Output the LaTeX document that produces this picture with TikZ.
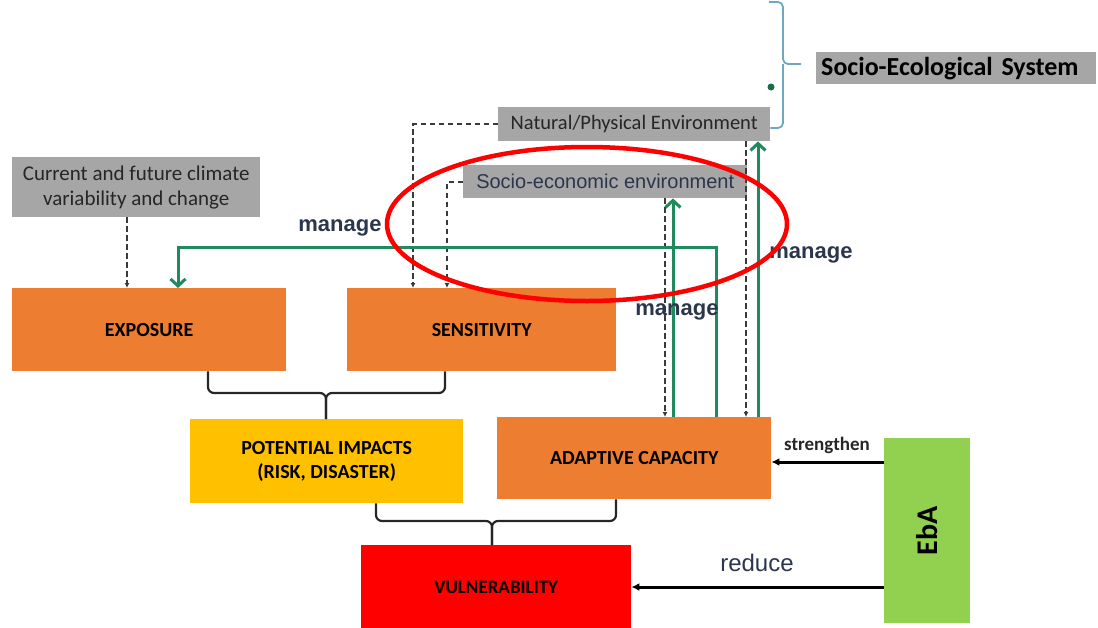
\documentclass[tikz,border=0pt]{standalone}
\usepackage{graphicx}
\usepackage{fontspec}
\setmainfont{Carlito}
\newfontfamily\arialfont{Liberation Sans}
\usetikzlibrary{arrows.meta}

\definecolor{boxorange}{HTML}{ED7D31}
\definecolor{boxyellow}{HTML}{FFC000}
\definecolor{boxred}{HTML}{FF0000}
\definecolor{boxgreen}{HTML}{92D050}
\definecolor{boxgray}{HTML}{A6A6A6}
\definecolor{linkgreen}{HTML}{1F8A5E}
\definecolor{dotgreen}{HTML}{1B6B47}
\definecolor{bracecol}{HTML}{6FA8BE}
\definecolor{labelnavy}{HTML}{2B364D}
\definecolor{textdark}{HTML}{262626}
\definecolor{dashcol}{HTML}{3A3A3A}

\tikzset{
  block/.style={rectangle, inner sep=0pt, anchor=north west, align=center},
  keybox/.style={block, text=black, font=\fontsize{20}{24}\selectfont\bfseries},
  envbox/.style={block, fill=boxgray, text=textdark},
  dashlink/.style={draw=dashcol, line width=2.2pt, dash pattern=on 5.5pt off 3.5pt,
    -{Latex[length=5pt,width=5pt]}},
  managelink/.style={draw=linkgreen, line width=3pt,
    -{Straight Barb[length=7pt,width=15pt,line width=3pt]}},
  ebalink/.style={draw=black, line width=3pt, -{Latex[length=8pt,width=8pt]}},
  bracket/.style={draw=textdark, line width=2.2pt, rounded corners=6pt},
  verb/.style={inner sep=0pt, text=labelnavy, font=\arialfont\fontsize{22}{26}\selectfont\bfseries},
}

\begin{document}
\begin{tikzpicture}[x=1pt,y=-1pt]
\useasboundingbox (0,0) rectangle (1098,627);

% --- system boxes -------------------------------------------------------
\node[block, fill=boxgray, minimum width=280pt, minimum height=32pt,
      text width=270pt, inner xsep=5pt, align=left,
      font=\fontsize{26}{30}\selectfont\bfseries] (ses) at (816,52) {Socio-Ecological System};

\node[envbox, minimum width=272pt, minimum height=34pt,
      font=\fontsize{20.5}{24}\selectfont] (nat) at (498,107) {Natural/Physical Environment};

\node[envbox, minimum width=284pt, minimum height=33pt, text=labelnavy,
      font=\arialfont\fontsize{20}{23}\selectfont] (soc) at (463,165) {Socio-economic environment};

\node[envbox, minimum width=248pt, minimum height=60pt,
      font=\fontsize{21}{25}\selectfont] (clim) at (12,157) {Current and future climate\\variability and change};

% --- assessment boxes ---------------------------------------------------
\node[keybox, fill=boxorange, minimum width=274pt, minimum height=83pt] (expo) at (12,288) {EXPOSURE};
\node[keybox, fill=boxorange, minimum width=269pt, minimum height=83pt] (sens) at (347,288) {SENSITIVITY};
\node[keybox, fill=boxyellow, minimum width=273pt, minimum height=84pt] (pot) at (190,419) {POTENTIAL IMPACTS\\(RISK, DISASTER)};
\node[keybox, fill=boxorange, minimum width=274pt, minimum height=82pt] (adapt) at (497,417) {ADAPTIVE CAPACITY};
\node[keybox, fill=boxred, minimum width=270pt, minimum height=84pt,
      font=\fontsize{19}{23}\selectfont\bfseries] (vul) at (361,545) {VULNERABILITY};
\node[block, fill=boxgreen, minimum width=86pt, minimum height=185pt, text=black,
      font=\fontsize{30}{34}\selectfont\bfseries] (eba) at (884,438) {\rotatebox{90}{EbA}};

% --- brace grouping the two environments -------------------------------
\coordinate (braceTop) at (769,2);
\coordinate (braceTip) at (801,64);
\draw[draw=bracecol, line width=1.8pt, rounded corners=5pt]
  (braceTop) -| (783,64) -- (braceTip);
\draw[draw=bracecol, line width=1.8pt, rounded corners=5pt]
  (nat.east |- 0,128) -| (783,64);
\fill[dotgreen] (771,87) circle[radius=3.5pt];

% --- influence of the environments (dashed) -----------------------------
\draw[dashlink] (clim.south -| 127,0) -- (127,0 |- expo.north);
\draw[dashlink] (nat.west) -| (413,0 |- sens.north);
\draw[dashlink] (soc.west) -| (447,0 |- sens.north);
\draw[dashlink] (soc.south -| 665,0) -- (665,0 |- adapt.north);
\draw[dashlink] (nat.south -| 746,0) -- (746,0 |- adapt.north);

% --- adaptive capacity manages (green) ----------------------------------
\draw[managelink] (adapt.north -| 673,0) -- (673,0 |- soc.south);
\draw[managelink] (adapt.north -| 758,0) -- (758,0 |- nat.south);
\draw[managelink] (adapt.north -| 716,0) -- (716,247) -| (178,0 |- expo.north);

\node[verb] (m1) at (340,228) {manage};
\node[verb] (m2) at (677,312) {manage};
\node[verb] (m3) at (811,255) {manage};

% --- brackets combining boxes -------------------------------------------
\coordinate (b1) at (326,393);
\draw[bracket] (expo.south -| 208,0) |- (b1) -- (b1 |- pot.north);
\draw[bracket] (sens.south -| 445,0) |- (b1) -- (b1 |- pot.north);
\coordinate (b2) at (492,521);
\draw[bracket] (pot.south -| 376,0) |- (b2) -- (b2 |- vul.north);
\draw[bracket] (adapt.south -| 616,0) |- (b2) -- (b2 |- vul.north);

% --- EbA links ----------------------------------------------------------
\draw[ebalink] (eba.west |- 0,462) -- (adapt.east |- 0,462);
\node[inner sep=0pt, text=textdark, font=\fontsize{19}{23}\selectfont\bfseries] (str) at (827,445) {strengthen};
\draw[ebalink] (eba.west |- 0,587) -- (vul.east |- 0,587);
\node[inner sep=0pt, text=labelnavy, font=\arialfont\fontsize{24}{28}\selectfont] (red) at (757,563) {reduce};

% --- highlight ----------------------------------------------------------
\draw[draw=red, line width=4.5pt] (587,224) ellipse[x radius=200pt, y radius=77pt];
\end{tikzpicture}
\end{document}
